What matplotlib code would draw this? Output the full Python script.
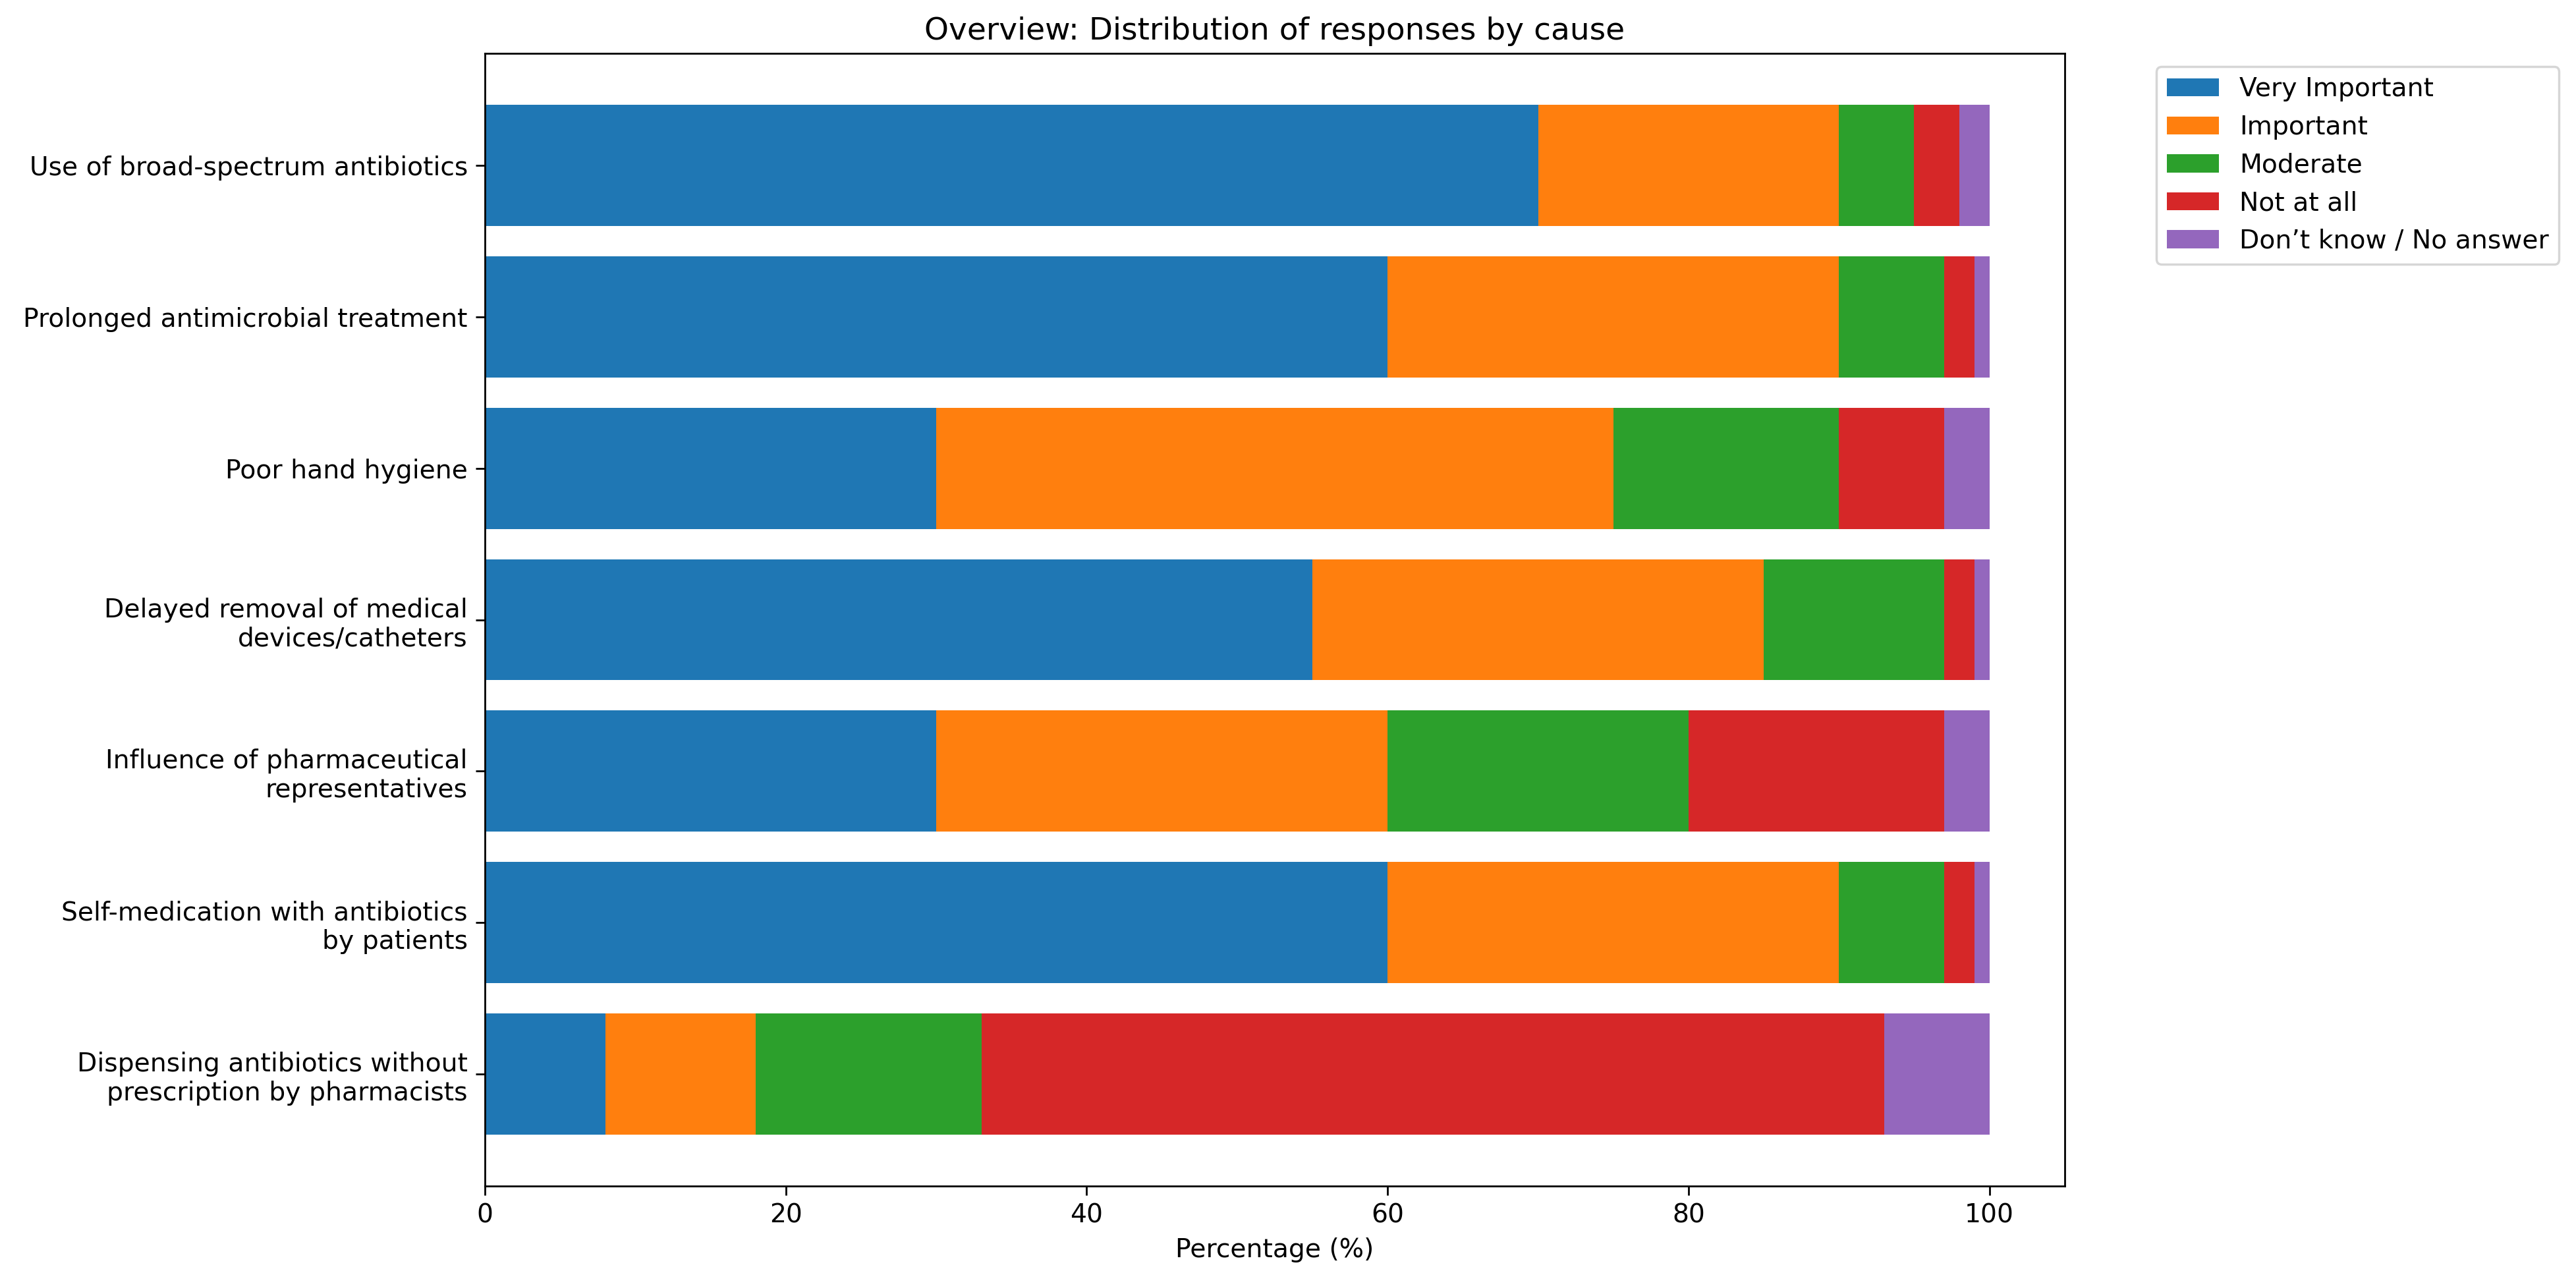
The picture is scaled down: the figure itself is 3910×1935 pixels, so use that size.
import matplotlib
matplotlib.use('Agg')
import matplotlib.pyplot as plt
import numpy as np

causes = [
    'Use of broad-spectrum antibiotics',
    'Prolonged antimicrobial treatment',
    'Poor hand hygiene',
    'Delayed removal of medical\ndevices/catheters',
    'Influence of pharmaceutical\nrepresentatives',
    'Self-medication with antibiotics\nby patients',
    'Dispensing antibiotics without\nprescription by pharmacists',
]
responses = ['Very Important', 'Important', 'Moderate', 'Not at all',
             'Don\u2019t know / No answer']

very_important = [70, 60, 30, 55, 30, 60, 8]
important = [20, 30, 45, 30, 30, 30, 10]
moderate = [5, 7, 15, 12, 20, 7, 15]
not_at_all = [3, 2, 7, 2, 17, 2, 60]
dont_know = [2, 1, 3, 1, 3, 1, 7]

series = [very_important, important, moderate, not_at_all, dont_know]
colors = ['#1f77b4', '#ff7f0e', '#2ca02c', '#d62728', '#9467bd']

plt.rcParams['font.size'] = 11.3
plt.rcParams['xtick.major.size'] = 4
plt.rcParams['ytick.major.size'] = 4

fig = plt.figure(figsize=(15.64, 7.74), dpi=250)
ax = fig.add_axes([0.1882, 0.0698, 0.6133, 0.8883])

y = np.arange(len(causes))
left = np.zeros(len(causes))
for vals, label, color in zip(series, responses, colors):
    ax.barh(y, vals, left=left, color=color, label=label, height=0.8)
    left += np.array(vals)

ax.set_yticks(y)
ax.set_yticklabels(causes)
ax.invert_yaxis()
ax.set_xlabel('Percentage (%)')
ax.set_title('Overview: Distribution of responses by cause')
ax.legend(bbox_to_anchor=(1.05, 1), loc='upper left')

fig.savefig('out.png', dpi=250)
